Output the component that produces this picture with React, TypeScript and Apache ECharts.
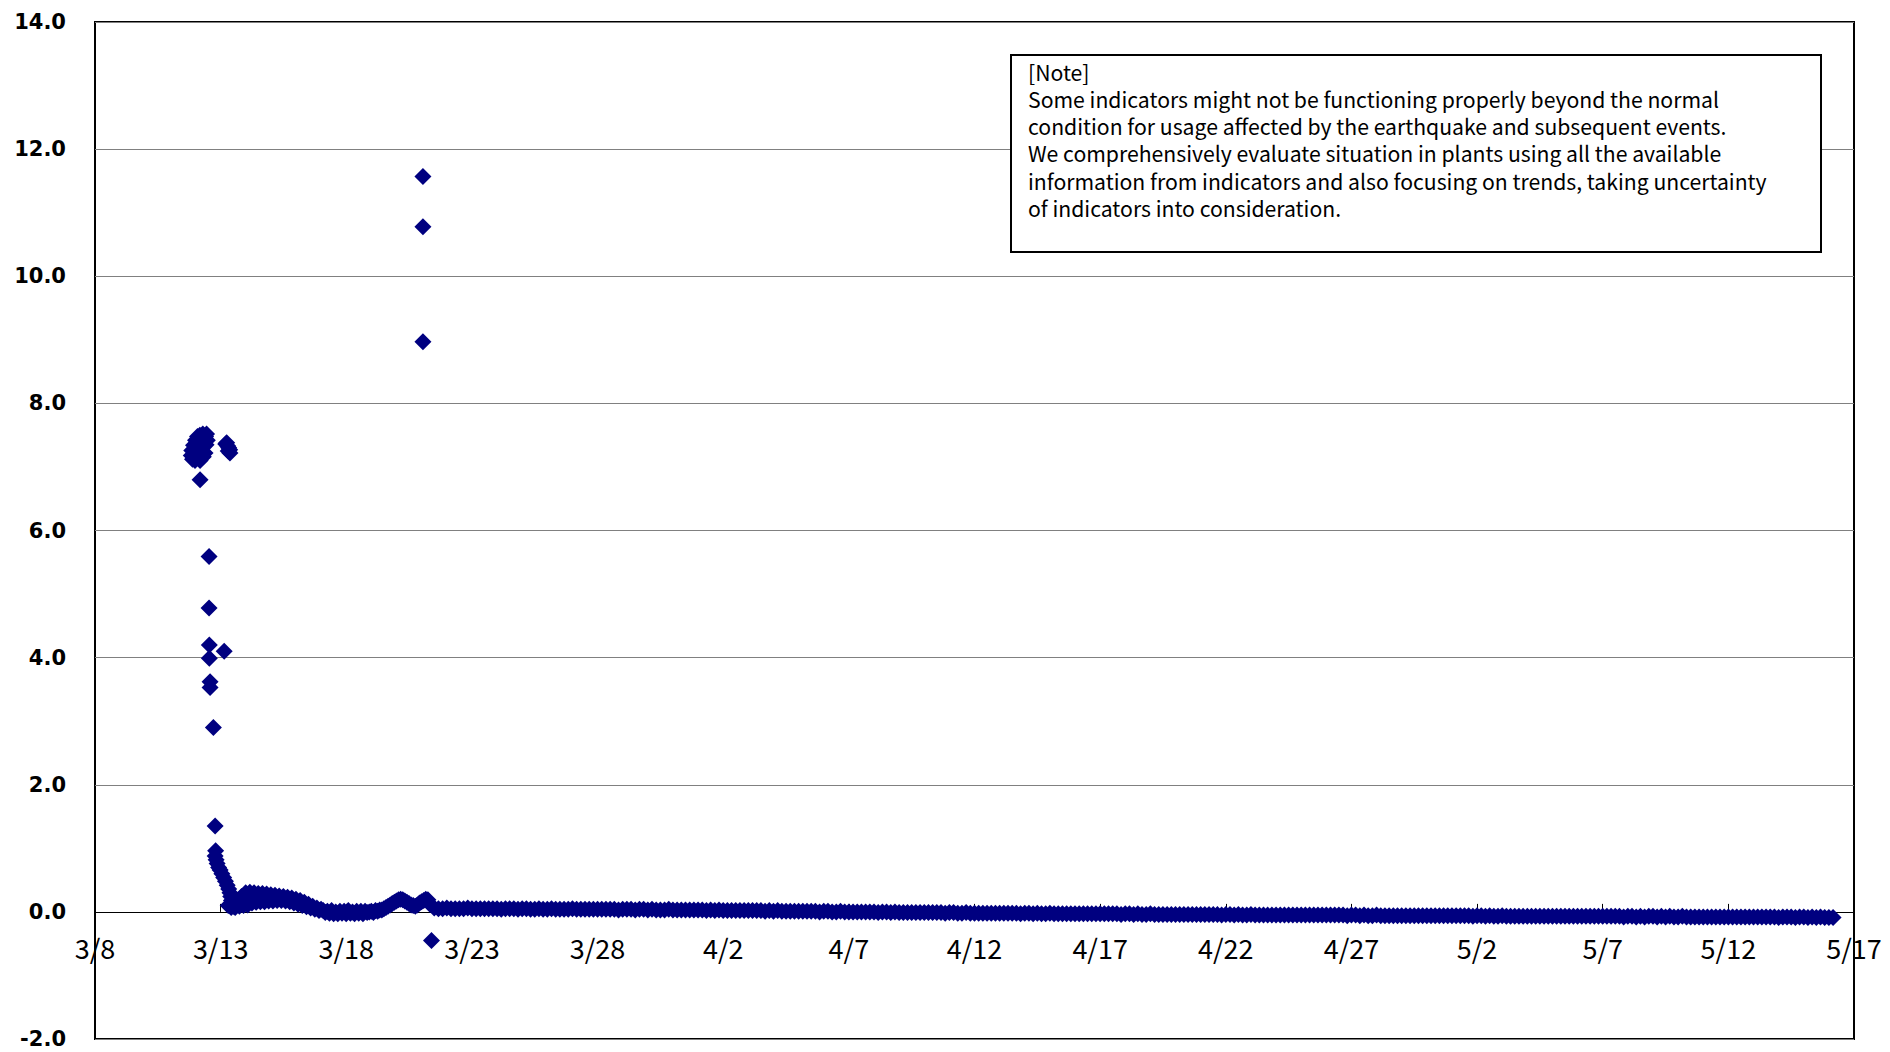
import React, { useEffect, useRef } from "react";
import * as echarts from "echarts";

// x = days after 3/8
const xTickLabels = ["3/8", "3/13", "3/18", "3/23", "3/28", "4/2", "4/7", "4/12", "4/17", "4/22", "4/27", "5/2", "5/7", "5/12", "5/17"];

// irregular early readings (3/11 evening - 3/13)
const earlyDays = [
  3.83, 3.85, 3.88, 3.92, 3.96, 3.98, 4.0, 4.04, 4.08, 4.1, 4.13, 4.17, 4.18, 4.21, 4.25, 4.29, 4.31, 4.33, 4.38, 4.4, 4.44, 4.47, 4.42, 4.18,
  4.54, 4.54, 4.55, 4.55, 4.58, 4.58, 4.71, 4.78, 5.14,
  4.8, 4.78, 4.82, 4.86, 4.92, 4.98, 5.05, 5.12, 5.19, 5.26, 5.32, 5.37, 5.4, 5.43, 5.46, 5.5, 5.54, 5.3, 5.42,
  5.2, 5.24, 5.28, 5.32, 5.36, 5.37, 5.3,
];
const earlyValues = [
  7.18, 7.26, 7.12, 7.34, 7.2, 7.1, 7.42, 7.28, 7.48, 7.15, 7.36, 7.5, 7.1, 7.25, 7.42, 7.52, 7.16, 7.32, 7.22, 7.48, 7.52, 7.42, 7.35, 6.8,
  5.59, 4.78, 4.2, 3.99, 3.62, 3.53, 2.9, 1.35, 4.1,
  0.96, 0.88, 0.82, 0.76, 0.7, 0.66, 0.6, 0.54, 0.48, 0.42, 0.36, 0.3, 0.24, 0.18, 0.13, 0.1, 0.08, 0.1, 0.07,
  7.36, 7.38, 7.33, 7.3, 7.27, 7.22, 7.25,
];

// 2-hourly readings from day 5.58 (3/13 14:00) to 3/21 08:00
const bandStartDay = 5.58;
const bandValues = [
  0.07, 0.12, 0.09, 0.24, 0.1, 0.3, 0.11, 0.31, 0.14, 0.3, 0.15, 0.29,
  0.16, 0.29, 0.16, 0.28, 0.17, 0.27, 0.17, 0.26, 0.18, 0.25, 0.18, 0.24,
  0.17, 0.23, 0.16, 0.22, 0.14, 0.2, 0.12, 0.18, 0.1, 0.15, 0.08, 0.12,
  0.06, 0.09, 0.04, 0.06, 0.02, 0.04,
  0.02, -0.01, 0.01, -0.02, 0.02, -0.03, 0.0, -0.03, 0.01, -0.02, 0.01, -0.03,
  0.02, -0.02, 0.0, -0.03, 0.01, -0.02, 0.01, -0.03, 0.01, -0.01, 0.0, 0.01,
  -0.01, 0.02, 0.01, 0.03,
  0.03, 0.05, 0.07, 0.09, 0.11, 0.13, 0.15, 0.17,
  0.19, 0.2, 0.19, 0.17, 0.15, 0.13, 0.11, 0.1, 0.09, 0.11, 0.14, 0.16, 0.18, 0.2, 0.19, 0.12,
];

// outliers around 3/21
const spikeDays = [13.05, 13.05, 13.05, 13.39];
const spikeValues = [11.57, 10.78, 8.97, -0.45];

// 4-hourly readings from 3/21 12:00 to 5/17
const tailStartDay = 13.5;
const tailValues = [
  0.06, 0.05, 0.05, 0.06, 0.05, 0.05,
  0.05, 0.05, 0.06, 0.05, 0.05, 0.05,
  0.05, 0.05, 0.05, 0.05, 0.04, 0.05,
  0.05, 0.05, 0.04, 0.05, 0.05, 0.04,
  0.04, 0.05, 0.04, 0.04, 0.05, 0.04,
  0.04, 0.04, 0.04, 0.05, 0.04, 0.04,
  0.04, 0.04, 0.04, 0.04, 0.04, 0.04,
  0.04, 0.04, 0.03, 0.04, 0.04, 0.04,
  0.03, 0.04, 0.04, 0.03, 0.04, 0.03,
  0.03, 0.03, 0.04, 0.03, 0.03, 0.03,
  0.03, 0.03, 0.03, 0.03, 0.03, 0.02,
  0.03, 0.02, 0.03, 0.02, 0.02, 0.02,
  0.02, 0.02, 0.02, 0.02, 0.02, 0.02,
  0.02, 0.01, 0.02, 0.01, 0.02, 0.01,
  0.01, 0.01, 0.01, 0.01, 0.01, 0.01,
  0.01, 0.01, 0.0, 0.01, 0.01, 0.0,
  0.0, 0.01, 0.0, 0.0, 0.0, 0.0,
  0.0, 0.0, 0.0, 0.0, -0.01, 0.0,
  0.0, -0.01, 0.0, -0.01, -0.01, -0.01,
  -0.01, -0.01, -0.01, -0.01, -0.01, -0.01,
  -0.01, -0.01, -0.02, -0.01, -0.01, -0.02,
  -0.02, -0.01, -0.02, -0.02, -0.02, -0.02,
  -0.02, -0.02, -0.02, -0.02, -0.02, -0.02,
  -0.02, -0.02, -0.03, -0.02, -0.02, -0.03,
  -0.02, -0.03, -0.03, -0.02, -0.03, -0.03,
  -0.03, -0.03, -0.03, -0.03, -0.03, -0.03,
  -0.03, -0.03, -0.03, -0.03, -0.03, -0.03,
  -0.03, -0.03, -0.04, -0.03, -0.03, -0.04,
  -0.03, -0.04, -0.04, -0.03, -0.04, -0.04,
  -0.04, -0.04, -0.04, -0.04, -0.04, -0.04,
  -0.04, -0.04, -0.04, -0.04, -0.04, -0.04,
  -0.04, -0.04, -0.05, -0.04, -0.04, -0.05,
  -0.04, -0.05, -0.05, -0.04, -0.05, -0.05,
  -0.05, -0.05, -0.05, -0.05, -0.05, -0.05,
  -0.05, -0.05, -0.05, -0.05, -0.05, -0.05,
  -0.05, -0.05, -0.05, -0.05, -0.05, -0.05,
  -0.05, -0.05, -0.06, -0.05, -0.05, -0.06,
  -0.05, -0.06, -0.06, -0.05, -0.06, -0.06,
  -0.06, -0.06, -0.06, -0.06, -0.06, -0.06,
  -0.06, -0.06, -0.06, -0.06, -0.06, -0.06,
  -0.06, -0.06, -0.06, -0.06, -0.06, -0.06,
  -0.06, -0.06, -0.07, -0.06, -0.06, -0.07,
  -0.06, -0.07, -0.07, -0.06, -0.07, -0.07,
  -0.07, -0.07, -0.07, -0.07, -0.07, -0.07,
  -0.07, -0.07, -0.07, -0.07, -0.07, -0.07,
  -0.07, -0.07, -0.07, -0.07, -0.07, -0.07,
  -0.07, -0.07, -0.07, -0.07, -0.07, -0.07,
  -0.07, -0.07, -0.08, -0.07, -0.07, -0.08,
  -0.07, -0.08, -0.07, -0.07, -0.08, -0.07,
  -0.08, -0.07, -0.08, -0.08, -0.07, -0.08,
  -0.08, -0.08, -0.08, -0.08, -0.08, -0.08,
  -0.08, -0.08, -0.08, -0.08, -0.08, -0.08,
  -0.08, -0.08, -0.08, -0.08, -0.08, -0.08,
  -0.08, -0.08, -0.08, -0.09, -0.08, -0.08,
  -0.08, -0.09, -0.08, -0.08, -0.09, -0.08,
  -0.09, -0.08, -0.09, -0.09, -0.09,
];

const noteLines = [
  "[Note]",
  "Some indicators might not be functioning properly beyond the normal",
  "condition for usage affected by the earthquake and subsequent events.",
  "We comprehensively evaluate situation in plants using all the available",
  "information from indicators and also focusing on trends, taking uncertainty",
  "of indicators into consideration.",
];

const GRID_TOP = 22;
const GRID_BOTTOM = 13;
const CHART_H = 1052;
const Y_MIN = -2;
const Y_MAX = 14;

export default function App() {
  const ref = useRef<HTMLDivElement>(null);

  useEffect(() => {
    if (!ref.current) return;
    const chart = echarts.init(ref.current, null, { renderer: "svg" });

    const points: number[][] = [];
    earlyDays.forEach((d, i) => points.push([d, earlyValues[i]]));
    bandValues.forEach((v, i) => points.push([bandStartDay + i / 12, v]));
    spikeDays.forEach((d, i) => points.push([d, spikeValues[i]]));
    tailValues.forEach((v, i) => points.push([tailStartDay + i / 6, v]));

    // distance from grid bottom up to the zero line
    const plotH = CHART_H - GRID_TOP - GRID_BOTTOM;
    const zeroOffset = (plotH * (0 - Y_MIN)) / (Y_MAX - Y_MIN);

    const noteText = noteLines.map((line, i) => ({
      type: "text",
      z: 101,
      x: 1028,
      y: 71 + i * 27.3,
      style: {
        text: line,
        fontSize: 21.2,
        fontFamily: "'Noto Sans CJK JP', sans-serif",
        fill: "#000",
        verticalAlign: "middle",
      },
    }));

    chart.setOption({
      animation: false,
      backgroundColor: "#ffffff",
      grid: {
        left: 95,
        right: 36,
        top: GRID_TOP,
        bottom: GRID_BOTTOM,
        show: true,
        borderColor: "#000",
        borderWidth: 2,
        backgroundColor: "transparent",
        containLabel: false,
        outerBoundsMode: "none",
      },
      xAxis: {
        type: "value",
        position: "bottom",
        offset: -zeroOffset,
        min: 0,
        max: 70,
        interval: 5,
        axisLine: { show: true, onZero: false, lineStyle: { color: "#000", width: 1 } },
        axisTick: { show: true, inside: true, length: 8, lineStyle: { color: "#000", width: 1 } },
        splitLine: { show: false },
        axisLabel: {
          show: true,
          margin: 22,
          color: "#000",
          fontSize: 27,
          fontFamily: "'Noto Sans CJK JP', sans-serif",
          showMinLabel: true,
          showMaxLabel: true,
          formatter: (v: number) => xTickLabels[Math.round(v / 5)] ?? "",
        },
      },
      yAxis: {
        type: "value",
        min: Y_MIN,
        max: Y_MAX,
        interval: 2,
        axisLine: { show: false },
        axisTick: { show: false },
        splitLine: { show: true, lineStyle: { color: "#808080", width: 1 } },
        axisLabel: {
          margin: 29,
          color: "#000",
          fontSize: 21,
          fontWeight: "bold",
          fontFamily: "'DejaVu Sans', sans-serif",
          formatter: (v: number) => v.toFixed(1),
        },
      },
      series: [
        {
          type: "scatter",
          symbol: "diamond",
          symbolSize: 17,
          itemStyle: { color: "#000080", opacity: 1 },
          data: points,
          z: 3,
        },
      ],
      graphic: [
        {
          type: "rect",
          z: 100,
          shape: { x: 1011, y: 55, width: 810, height: 197 },
          style: { fill: "#ffffff", stroke: "#000000", lineWidth: 2 },
        },
        ...noteText,
      ],
    });

    return () => chart.dispose();
  }, []);

  return (
    <div
      ref={ref}
      style={{ position: "fixed", left: 0, top: 0, width: 1890, height: 1052 }}
    />
  );
}
